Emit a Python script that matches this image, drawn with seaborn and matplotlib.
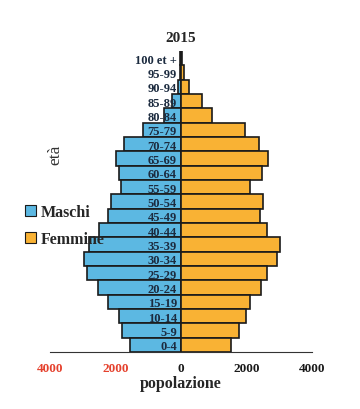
import numpy as np
import pandas as pd
import matplotlib
matplotlib.use("Agg")
import matplotlib.pyplot as plt
import seaborn as sns

# Age classes, top to bottom as drawn
age_classes = ["100 et +", "95-99", "90-94", "85-89", "80-84", "75-79", "70-74",
               "65-69", "60-64", "55-59", "50-54", "45-49", "40-44", "35-39",
               "30-34", "25-29", "20-24", "15-19", "10-14", "5-9", "0-4"]
males = [20, 30, 100, 280, 510, 1150, 1740, 1980, 1880, 1820, 2130, 2220,
         2500, 2800, 2960, 2860, 2540, 2240, 1910, 1800, 1560]
females = [40, 90, 250, 650, 935, 1950, 2380, 2660, 2480, 2095, 2510, 2410,
           2630, 3010, 2930, 2620, 2440, 2095, 1980, 1760, 1525]
x_ticks = [-4000, -2000, 0, 2000, 4000]
x_tick_labels = ["4000", "2000", "0", "2000", "4000"]

df = pd.DataFrame({"età": age_classes,
                   "Maschi": -np.array(males),
                   "Femmine": females})

sns.set_style("white")
plt.rcParams['font.family'] = ['Liberation Serif', 'DejaVu Serif']

fig = plt.figure(figsize=(3.6, 4.1), dpi=100)
ax = fig.add_axes([0.139, 0.139, 0.728, 0.734])

blue = "#5cb8e2"
orange = "#f9b234"
sns.barplot(data=df, y="età", x="Maschi", orient="h", color=blue, width=1,
            saturation=1, edgecolor="#1a1a1a", linewidth=1.2, label="Maschi", ax=ax)
sns.barplot(data=df, y="età", x="Femmine", orient="h", color=orange, width=1,
            saturation=1, edgecolor="#1a1a1a", linewidth=1.2, label="Femmine", ax=ax)

ax.set_axisbelow(False)
ax.set_xlim(-4000, 4000)
ax.set_ylim(len(age_classes) - 0.5, -0.5)
ax.set_xticks(x_ticks)
ax.set_xticklabels(x_tick_labels, fontsize=9.5, fontweight="bold")
for lbl, v in zip(ax.get_xticklabels(), x_ticks):
    lbl.set_color("#e5412d" if v < 0 else "#1a1a1a")
ax.tick_params(axis="x", direction="out", length=4, width=1, color="#333333", pad=3)

# age labels sit on the centre line
ax.spines["left"].set_position(("data", 0))
ax.spines["left"].set_visible(False)
ax.spines["right"].set_visible(False)
ax.spines["top"].set_visible(False)
ax.spines["bottom"].set_color("#333333")
ax.tick_params(axis="y", length=0, pad=3)
for lbl in ax.get_yticklabels():
    lbl.set_fontsize(9)
    lbl.set_fontweight("bold")
    lbl.set_color("#1c2b3f")

ax.set_xlabel("popolazione", fontsize=11.5, fontweight="bold", labelpad=1)
ax.set_ylabel("età", fontsize=12.5, color="#333333")
ax.yaxis.set_label_coords(0.05, 0.66)
ax.set_title("2015", fontsize=11, fontweight="bold", pad=7)

leg = ax.legend(loc="upper left", bbox_to_anchor=(-0.15, 0.54), frameon=False,
                handlelength=0.7, handleheight=0.7, handletextpad=0.3,
                labelspacing=0.7, prop={"weight": "bold", "size": 11.5})
for h in leg.legend_handles:
    h.set_edgecolor("#1a1a1a")
    h.set_linewidth(0.8)
leg.set_zorder(10)

plt.savefig("out.png", dpi=100)
plt.close()
